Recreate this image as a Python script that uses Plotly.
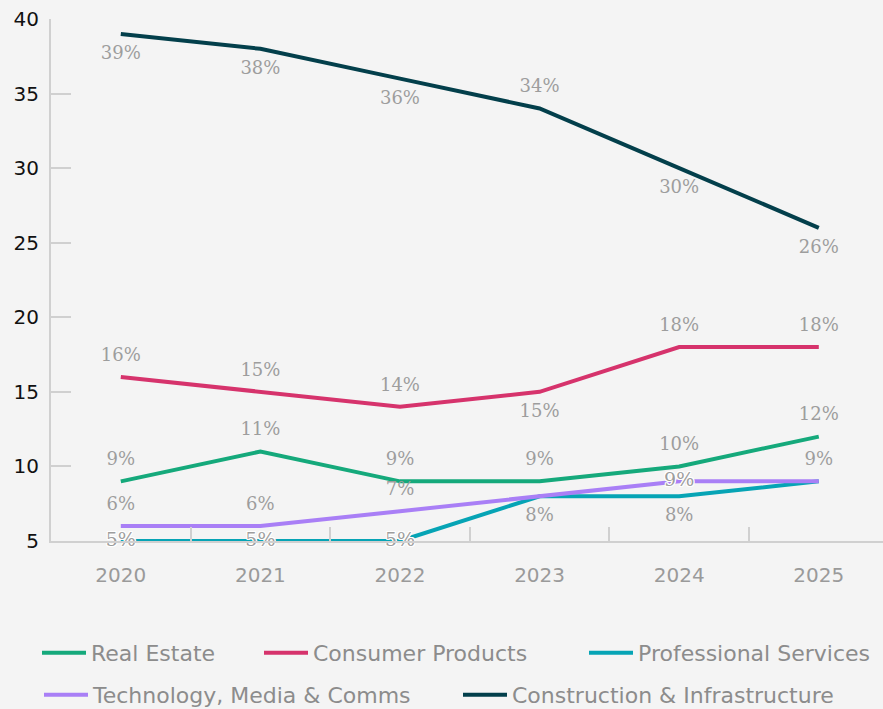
import plotly.graph_objects as go

years = ["2020", "2021", "2022", "2023", "2024", "2025"]

real_estate = [9, 11, 9, 9, 10, 12]
consumer_products = [16, 15, 14, 15, 18, 18]
professional_services = [5, 5, 5, 8, 8, 9]
tech_media_comms = [6, 6, 7, 8, 9, 9]
construction_infra = [39, 38, 36, 34, 30, 26]

# label placement per point: "above", "below", "on" (outlined, centred) or None (hidden)
real_estate_pos = ["above"] * 6
consumer_products_pos = ["above", "above", "above", "below", "above", "above"]
professional_services_pos = ["on", "on", "on", "below", "below", None]
tech_media_comms_pos = ["above", "above", "above", None, "on", "above"]
construction_infra_pos = ["below", "below", "below", "above", "below", "below"]

series = [
    ("Real Estate", real_estate, real_estate_pos, "#15a97b"),
    ("Consumer Products", consumer_products, consumer_products_pos, "#d6336c"),
    ("Professional Services", professional_services, professional_services_pos, "#06a4b5"),
    ("Technology, Media & Comms", tech_media_comms, tech_media_comms_pos, "#a97ff6"),
    ("Construction & Infrastructure", construction_infra, construction_infra_pos, "#033f4b"),
]

# legend entry anchors (container pixels) laid out in two rows
legend_slots = [(37, 653), (259, 653), (584, 653),
                (39, 695), (458, 695)]

W, H = 883, 709
BG = "#f4f4f4"
SANS = "DejaVu Sans"
SERIF = "DejaVu Serif"
LABEL_GREY = "#9d9d9d"
OUTLINE = ("1px 1px 0 #fff, -1px -1px 0 #fff, 1px -1px 0 #fff, -1px 1px 0 #fff, "
           "0 1px 0 #fff, 0 -1px 0 #fff, 1px 0 0 #fff, -1px 0 0 #fff")

fig = go.Figure()

lab_x, lab_y, lab_text, lab_pos = [], [], [], []
on_x, on_y, on_text = [], [], []

for i, (name, vals, pos, color) in enumerate(series):
    lg = "legend" if i == 0 else f"legend{i + 1}"
    fig.add_trace(go.Scatter(
        x=years, y=vals, name=name, mode="lines",
        line=dict(color=color, width=4),
        legend=lg,
    ))
    for x, v, p in zip(years, vals, pos):
        if p is None:
            continue
        if p == "on":
            on_x.append(x)
            on_y.append(v)
            on_text.append(f"{v}%")
        else:
            lab_x.append(x)
            lab_y.append(v)
            lab_text.append(f"{v}%")
            lab_pos.append("top center" if p == "above" else "bottom center")

# value labels above / below the points (invisible markers give the offset)
fig.add_trace(go.Scatter(
    x=lab_x, y=lab_y, text=lab_text, textposition=lab_pos,
    mode="markers+text",
    marker=dict(size=17, color="rgba(0,0,0,0)"),
    textfont=dict(family=SERIF, size=18, color=LABEL_GREY),
    cliponaxis=False, showlegend=False, hoverinfo="skip",
))

# labels sitting on top of their line, with a white halo
fig.add_trace(go.Scatter(
    x=on_x, y=on_y, text=on_text, mode="text", textposition="middle center",
    textfont=dict(family=SERIF, size=19, color=LABEL_GREY, shadow=OUTLINE),
    cliponaxis=False, showlegend=False, hoverinfo="skip",
))

layout_legends = {}
for i, (lx, ly) in enumerate(legend_slots):
    key = "legend" if i == 0 else f"legend{i + 1}"
    layout_legends[key] = dict(
        x=lx / W, y=1 - ly / H, xref="container", yref="container",
        xanchor="left", yanchor="middle",
        orientation="h", bgcolor="rgba(0,0,0,0)",
        font=dict(family=SANS, size=22, color="#8c8c8c"),
        itemwidth=44,
    )

fig.update_layout(
    width=W, height=H,
    paper_bgcolor=BG, plot_bgcolor=BG,
    margin=dict(l=51, r=0, t=19, b=168),
    showlegend=True,
    xaxis=dict(
        type="category", range=[-0.5, 5.46],
        showgrid=False, zeroline=False,
        showline=True, linecolor="#d0d0d0", linewidth=2,
        ticks="inside", tickson="boundaries", ticklen=14, tickwidth=2, tickcolor="#d0d0d0",
        tickfont=dict(family=SANS, size=20, color="#9a9a9a"),
        ticklabelstandoff=15,
    ),
    yaxis=dict(
        range=[5, 40], tickvals=[5, 10, 15, 20, 25, 30, 35, 40],
        showgrid=False, zeroline=False,
        showline=True, linecolor="#d0d0d0", linewidth=2,
        ticks="inside", ticklen=20, tickwidth=2, tickcolor="#d0d0d0",
        tickfont=dict(family=SANS, size=20, color="#111111"),
        ticklabelstandoff=6,
    ),
    **layout_legends,
)

fig.write_html("out.html")
